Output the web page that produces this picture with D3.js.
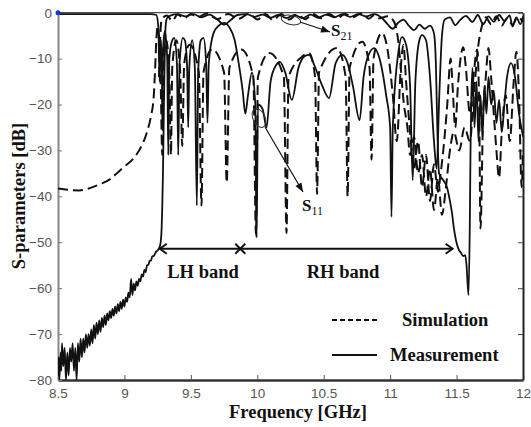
<!DOCTYPE html>
<html>
<head>
<meta charset="utf-8">
<script src="https://cdnjs.cloudflare.com/ajax/libs/d3/7.8.5/d3.min.js"></script>
<style>
  body { margin: 0; background: #fff; }
  .tick text { font-family: "Liberation Sans", Arial, sans-serif; font-size: 13.5px; fill: #555; }
  .lbl { font-family: "Liberation Serif", "Times New Roman", serif; font-weight: bold; font-size: 18.5px; fill: #111; }
</style>
</head>
<body>
<div id="chart"></div>
<script>
const freqTicks = [8.5, 9, 9.5, 10, 10.5, 11, 11.5, 12];
const dbTicks = [0, -10, -20, -30, -40, -50, -60, -70, -80];

// measured S21 (solid)
const measS21 = [[8.50,-79],[8.505,-75],[8.51,-80],[8.52,-74],[8.525,-78],[8.53,-72],[8.54,-77],[8.55,-73],[8.56,-80],[8.57,-74],
  [8.58,-79],[8.59,-73],[8.60,-76],[8.61,-72],[8.62,-78],[8.63,-73],[8.64,-80],[8.65,-72],[8.66,-76],[8.67,-71],[8.68,-75],
  [8.69,-71],[8.70,-74],[8.71,-70],[8.72,-73],[8.73,-70],[8.74,-72.5],[8.75,-69],[8.76,-72],[8.77,-68],[8.78,-71],[8.79,-67.5],
  [8.80,-70],[8.81,-67],[8.82,-69.5],[8.83,-66.5],[8.84,-68.5],[8.85,-66],[8.86,-68],[8.87,-65.5],[8.88,-67],[8.89,-65],
  [8.90,-66.5],[8.91,-64.5],[8.92,-66],[8.93,-64],[8.94,-65.5],[8.95,-63.5],[8.96,-65],[8.97,-63],[8.98,-64.5],[8.99,-62.5],
  [9.00,-64],[9.01,-62],[9.02,-63],[9.03,-61],[9.04,-62],[9.05,-58],[9.06,-61.5],[9.07,-59],[9.08,-60.5],[9.09,-58.5],
  [9.10,-59.5],[9.11,-58],[9.12,-58.5],[9.13,-57],[9.14,-57.5],[9.15,-56],[9.16,-56.5],[9.17,-55],[9.18,-55],[9.19,-54],
  [9.20,-54],[9.21,-53],[9.22,-53],[9.23,-52.5],[9.24,-52],[9.25,-51.8],[9.26,-51.3],[9.27,-50.5],[9.28,-47],[9.285,-42],
  [9.29,-35],[9.295,-25],[9.30,-15],[9.305,-7],[9.31,-3],[9.32,-1.2],[9.35,-0.6],[9.40,-0.3],[9.46,-0.8],[9.52,-0.3],
  [9.58,-1.0],[9.64,-0.4],[9.70,-1.5],[9.75,-2.6],[9.80,-1.6],[9.85,-0.5],[9.92,-0.3],[9.98,-0.9],[10.04,-0.4],[10.10,-1.1],
  [10.16,-0.5],[10.22,-1.2],[10.28,-0.5],[10.34,-1.2],[10.40,-0.4],[10.46,-1.1],[10.52,-0.4],[10.58,-1.0],[10.64,-0.3],
  [10.70,-0.9],[10.76,-0.3],[10.82,-0.8],[10.88,-0.3],[10.94,-1.2],[10.98,-2.5],[11.02,-3.5],[11.06,-2.2],[11.10,-1.5],
  [11.14,-2.8],[11.18,-3.8],[11.22,-2.6],[11.26,-3.5],[11.30,-2.8],[11.33,-4.5],[11.345,-12],[11.355,-25],[11.368,-35],
  [11.40,-36.5],[11.428,-38],[11.45,-41],[11.466,-43.7],[11.48,-47],[11.495,-49.5],[11.515,-51.5],[11.533,-52.3],[11.55,-53],
  [11.565,-52.8],[11.575,-55],[11.59,-61.5],[11.60,-45],[11.605,-30],[11.61,-20],[11.62,-12],[11.635,-25],[11.65,-15],
  [11.665,-28],[11.68,-18],[11.695,-27],[11.71,-16],[11.725,-22],[11.74,-14],[11.76,-20],[11.78,-17],[11.80,-24],[11.82,-19],
  [11.84,-26],[11.86,-20],[11.88,-14],[11.91,-11],[11.94,-14],[11.97,-22],[12.0,-27]];

// measured S11 (solid)
const measS11 = [[8.50,-0.3],[9.20,-0.3],[9.24,-0.5],[9.255,-3],[9.265,-15],[9.275,-6],[9.282,-12],[9.285,-25],[9.288,-12],
  [9.295,-6],[9.305,-4],[9.322,-10],[9.33,-31],[9.338,-10],[9.36,-6],[9.375,-5.5],[9.395,-11],[9.405,-31],[9.415,-11],
  [9.44,-5.5],[9.455,-6],[9.472,-12],[9.48,-25],[9.488,-12],[9.51,-6],[9.53,-12],[9.545,-42],[9.555,-13],[9.575,-6],
  [9.595,-5.5],[9.615,-11],[9.625,-24],[9.635,-11],[9.67,-4.5],[9.71,-2.8],[9.75,-2.2],[9.79,-3.2],[9.83,-6],[9.86,-11],
  [9.89,-17],[9.91,-22],[9.93,-18],[9.96,-13],[9.985,-20],[9.995,-49],[10.005,-20],[10.04,-21],[10.07,-25],[10.10,-15],
  [10.14,-11.5],[10.17,-10.7],[10.21,-13],[10.26,-19],[10.31,-12],[10.36,-9.4],[10.39,-9.2],[10.43,-11.5],[10.49,-16],
  [10.54,-18.6],[10.59,-11],[10.64,-9.2],[10.68,-11],[10.72,-16],[10.77,-23.4],[10.80,-14],[10.84,-9],[10.88,-7.7],
  [10.92,-10],[10.97,-18],[11.00,-25],[11.01,-44.5],[11.02,-25],[11.06,-9],[11.09,-5.3],[11.12,-7],[11.15,-16],[11.17,-36.5],
  [11.19,-15],[11.22,-6],[11.24,-4.9],[11.27,-6],[11.30,-14],[11.33,-28],[11.35,-34],[11.37,-18],[11.39,-5],[11.41,-1.5],
  [11.45,-1],[11.49,-2.7],[11.53,-1.5],[11.57,-0.7],[11.62,-2],[11.66,-0.5],[11.70,-2.5],[11.74,-0.8],[11.78,-2],
  [11.82,-0.5],[11.86,-1.8],[11.90,-0.6],[11.92,-3],[11.95,-1],[11.98,-2.5],[12.0,-0.8]];

// simulated S11 (dashed)
const simS11 = [[8.50,-38.3],[8.58,-38.6],[8.66,-38.7],[8.74,-38.2],[8.82,-37.3],[8.89,-36.3],[8.95,-34.8],[9.00,-33.5],
  [9.06,-32],[9.12,-29.5],[9.17,-26],[9.20,-22.5],[9.22,-18.5],[9.23,-13],[9.24,-6],[9.25,-3],[9.26,-5],[9.272,-14],
  [9.285,-31],[9.295,-12],[9.315,-6],[9.338,-14],[9.35,-31],[9.36,-12],[9.39,-6],[9.42,-13],[9.435,-29],[9.45,-11],
  [9.49,-7],[9.56,-13],[9.58,-42],[9.595,-13],[9.66,-8],[9.75,-13],[9.77,-37],[9.79,-12],[9.88,-8],[9.97,-14],[9.99,-48.5],
  [10.005,-14],[10.09,-8.8],[10.20,-14],[10.22,-48],[10.235,-14],[10.34,-9.5],[10.39,-8.8],[10.435,-14],[10.45,-39.5],
  [10.465,-13],[10.60,-7.7],[10.665,-14],[10.68,-40],[10.695,-12],[10.79,-6.3],[10.845,-12],[10.86,-32],[10.875,-10],
  [10.94,-4.4],[10.98,-8],[11.02,-18],[11.05,-28],[11.08,-12],[11.10,-7],[11.12,-15],[11.15,-26],[11.18,-34],[11.21,-28],
  [11.24,-38],[11.27,-31],[11.30,-41],[11.33,-33],[11.36,-39],[11.38,-35],[11.40,-30],[11.43,-20],[11.455,-10],[11.47,-16],
  [11.49,-25],[11.51,-16],[11.53,-10],[11.55,-7.5],[11.57,-12],[11.60,-22],[11.63,-13],[11.655,-8],[11.67,-20],[11.68,-47],
  [11.70,-22],[11.72,-14],[11.74,-7.7],[11.76,-14],[11.78,-22],[11.80,-30],[11.82,-36],[11.84,-26],[11.87,-18],[11.90,-28],
  [11.93,-15],[11.95,-8.5],[11.97,-18],[11.99,-38],[12.0,-30]];

// simulated S21 (dashed)
const simS21 = [[9.26,-14],[9.27,-5],[9.28,-1.5],[9.32,-0.6],[9.36,-1.8],[9.40,-0.4],[9.45,-1.2],[9.50,-0.3],[9.55,-1.0],
  [9.62,-0.2],[9.70,-1.4],[9.78,-0.3],[9.86,-1.3],[9.94,-0.2],[10.0,-1.5],[10.06,-0.3],[10.12,-1.6],[10.18,-0.3],[10.24,-1.5],
  [10.30,-0.4],[10.36,-1.4],[10.42,-0.3],[10.48,-1.2],[10.54,-0.3],[10.60,-1.2],[10.66,-0.3],[10.72,-1.0],[10.78,-0.2],
  [10.84,-1.3],[10.88,-0.5],[10.92,-1.2],[10.98,-0.8],[11.03,-2],[11.06,-6],[11.08,-12],[11.10,-19],[11.13,-25],[11.15,-31],
  [11.18,-27],[11.21,-35],[11.24,-31],[11.27,-40],[11.30,-34],[11.33,-43],[11.36,-36],[11.39,-44],[11.42,-38],[11.45,-30],
  [11.48,-26],[11.52,-30],[11.56,-25],[11.60,-28],[11.63,-18],[11.66,-8],[11.69,-3],[11.72,-1],[11.76,-2.5],[11.80,-0.8],
  [11.84,-2.8],[11.88,-1.2],[11.92,-2.6],[11.96,-1],[12.0,-2]];

const W = 531, H = 427;
const x = d3.scaleLinear().domain([8.5, 12]).range([58, 523]);
const y = d3.scaleLinear().domain([-80, 0]).range([380, 12.7]);

const svg = d3.select("#chart").append("svg").attr("width", W).attr("height", H);

svg.append("defs").append("clipPath").attr("id", "plot")
  .append("rect").attr("x", 58).attr("y", 11).attr("width", 465).attr("height", 369);

// axes
const gx = svg.append("g").attr("transform", "translate(0,380)")
  .call(d3.axisBottom(x).tickValues(freqTicks).tickFormat(d3.format("")).tickSizeInner(-5).tickSizeOuter(0).tickPadding(8));
gx.select(".domain").attr("stroke", "#333").attr("stroke-width", 2.5);
gx.selectAll(".tick line").attr("stroke", "#555");

const gy = svg.append("g").attr("transform", "translate(58,0)")
  .call(d3.axisLeft(y).tickValues(dbTicks).tickFormat(d3.format("")).tickSizeInner(-4).tickSizeOuter(0).tickPadding(6));
gy.select(".domain").attr("stroke", "#888").attr("stroke-width", 2);
gy.selectAll(".tick line").attr("stroke", "#777");

const gr = svg.append("g").attr("transform", "translate(523,0)")
  .call(d3.axisRight(y).tickValues(dbTicks).tickFormat("").tickSizeInner(-5).tickSizeOuter(0));
gr.select(".domain").attr("stroke", "#222").attr("stroke-width", 2);
gr.selectAll(".tick line").attr("stroke", "#444");

svg.append("line").attr("x1", 58).attr("x2", 523).attr("y1", y(0)).attr("y2", y(0))
  .attr("stroke", "#222").attr("stroke-width", 1);

// curves
const line = d3.line().x(d => x(d[0])).y(d => y(d[1])).curve(d3.curveMonotoneX);
const plot = svg.append("g").attr("clip-path", "url(#plot)");

[simS11, simS21].forEach(s => {
  plot.append("path").datum(s).attr("d", line).attr("fill", "none")
    .attr("stroke", "#111").attr("stroke-width", 2).attr("stroke-dasharray", "10,5");
});
[measS11, measS21].forEach(s => {
  plot.append("path").datum(s).attr("d", line).attr("fill", "none")
    .attr("stroke", "#111").attr("stroke-width", 1.8).attr("stroke-linejoin", "round");
});

svg.append("circle").attr("cx", x(8.5)).attr("cy", y(0)).attr("r", 2.5).attr("fill", "#1a2fe0");

// band arrows
const bandY = y(-51.4);
const bx0 = x(9.266), bxMid = x(9.872), bx1 = x(11.47);
svg.append("line").attr("x1", bx0).attr("x2", bx1).attr("y1", bandY).attr("y2", bandY)
  .attr("stroke", "#111").attr("stroke-width", 2);
svg.append("path").attr("d", `M${bx0 + 7},${bandY - 5}L${bx0},${bandY}L${bx0 + 7},${bandY + 5}`)
  .attr("fill", "none").attr("stroke", "#111").attr("stroke-width", 2);
svg.append("path").attr("d", `M${bx1 - 7},${bandY - 5}L${bx1},${bandY}L${bx1 - 7},${bandY + 5}`)
  .attr("fill", "none").attr("stroke", "#111").attr("stroke-width", 2);
svg.append("path").attr("d", `M${bxMid - 5},${bandY - 5}L${bxMid + 5},${bandY + 5}M${bxMid - 5},${bandY + 5}L${bxMid + 5},${bandY - 5}`)
  .attr("stroke", "#111").attr("stroke-width", 2);

svg.append("text").attr("class", "lbl").attr("x", (bx0 + bxMid) / 2 + 3).attr("y", 278)
  .attr("text-anchor", "middle").text("LH band");
svg.append("text").attr("class", "lbl").attr("x", 343).attr("y", 278)
  .attr("text-anchor", "middle").text("RH band");

// S21 / S11 callouts
const callout = (cx, cy, rx, ry, rot, x1, y1, x2, y2) => {
  svg.append("ellipse").attr("cx", cx).attr("cy", cy).attr("rx", rx).attr("ry", ry)
    .attr("transform", `rotate(${rot},${cx},${cy})`)
    .attr("fill", "none").attr("stroke", "#333").attr("stroke-width", 1);
  svg.append("line").attr("x1", x1).attr("y1", y1).attr("x2", x2).attr("y2", y2)
    .attr("stroke", "#111").attr("stroke-width", 1.2);
  const a = Math.atan2(y2 - y1, x2 - x1), L = 9, w = 3.5;
  const p = [[x2, y2],
    [x2 - L * Math.cos(a) + w * Math.sin(a), y2 - L * Math.sin(a) - w * Math.cos(a)],
    [x2 - L * Math.cos(a) - w * Math.sin(a), y2 - L * Math.sin(a) + w * Math.cos(a)]];
  svg.append("path").attr("d", "M" + p.join("L") + "Z").attr("fill", "#111");
};
callout(291, 20, 10, 4.5, 12, 300, 22, 330, 32);
callout(259, 118, 6, 10, -25, 265, 127, 303, 192);

const sub = (tx, ty, s) => {
  const t = svg.append("text").attr("x", tx).attr("y", ty)
    .style("font-family", "Liberation Serif, serif").style("fill", "#111");
  t.append("tspan").style("font-size", "17px").style("font-weight", "bold").text("S");
  t.append("tspan").style("font-size", "12px").attr("dy", 4).text(s);
};
sub(331, 36, "21");
sub(302, 211, "11");

// legend
svg.append("line").attr("x1", 332).attr("x2", 377).attr("y1", 320).attr("y2", 320)
  .attr("stroke", "#111").attr("stroke-width", 2).attr("stroke-dasharray", "5,3");
svg.append("line").attr("x1", 332).attr("x2", 377).attr("y1", 355).attr("y2", 355)
  .attr("stroke", "#111").attr("stroke-width", 2.2);
svg.append("text").attr("class", "lbl").attr("x", 402).attr("y", 326).text("Simulation");
svg.append("text").attr("class", "lbl").attr("x", 390).attr("y", 361).text("Measurement");

// axis titles
svg.append("text").attr("class", "lbl").attr("x", 298).attr("y", 418)
  .attr("text-anchor", "middle").text("Frequency [GHz]");
svg.append("text").attr("class", "lbl").attr("transform", "translate(25,196) rotate(-90)")
  .attr("text-anchor", "middle").text("S-parameters [dB]");
</script>
</body>
</html>
